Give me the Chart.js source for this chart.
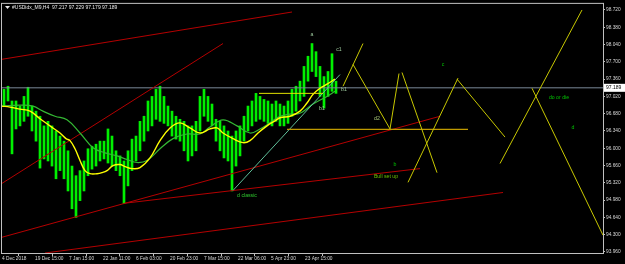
<!DOCTYPE html>
<html>
<head>
<meta charset="utf-8">
<style>
  html, body { margin: 0; padding: 0; background: #000; }
</style>
<script src="https://cdn.jsdelivr.net/npm/chart.js@4/dist/chart.umd.min.js"></script>
</head>
<body>
<canvas id="grafico" width="625" height="264"></canvas>
<script>
  // H4 bars, one entry every two bars (x in bar units)
  const barHigh = [97.16, 97.22, 96.93, 96.93, 96.83, 97.02, 97.20, 96.83, 96.73, 96.63,
    96.44, 96.53, 96.44, 96.34, 96.24, 96.14, 95.95, 95.65, 95.46, 95.56,
    95.75, 95.99, 96.04, 96.08, 96.14, 96.14, 96.38, 96.24, 95.95, 95.85,
    95.75, 95.95, 96.18, 96.24, 96.53, 96.63, 96.93, 97.02, 97.16, 97.22,
    97.02, 96.83, 96.73, 96.63, 96.57, 96.53, 96.44, 96.44, 96.53, 97.02,
    97.16, 97.02, 96.87, 96.57, 96.53, 96.44, 96.34, 96.24, 96.34, 96.44,
    96.63, 96.83, 96.93, 97.08, 97.02, 96.96, 96.93, 96.87, 96.93, 96.87,
    96.83, 96.93, 97.16, 97.22, 97.32, 97.61, 97.81, 98.06, 97.90, 97.61,
    97.41, 97.51, 97.86, 97.32];
  const barLow = [96.83, 96.93, 95.89, 96.38, 96.44, 96.53, 96.63, 96.34, 96.14, 95.61,
    95.79, 95.75, 95.65, 95.40, 95.56, 95.40, 95.16, 94.81, 94.64, 94.97,
    95.16, 95.46, 95.59, 95.65, 95.75, 95.79, 95.71, 95.65, 95.56, 95.46,
    94.91, 95.26, 95.56, 95.75, 95.95, 96.14, 96.34, 96.44, 96.57, 96.53,
    96.49, 96.44, 96.24, 96.18, 96.14, 95.95, 95.75, 95.85, 95.95, 96.34,
    96.63, 96.53, 96.44, 96.14, 95.95, 95.81, 95.75, 95.16, 95.65, 95.85,
    96.14, 96.34, 96.44, 96.53, 96.57, 96.53, 96.49, 96.44, 96.53, 96.44,
    96.44, 96.49, 96.63, 96.73, 96.93, 97.02, 97.32, 97.51, 97.41, 97.02,
    96.79, 97.02, 97.12, 97.08];

  const maFast = [[0, 96.83], [4, 96.81], [9, 96.77], [14, 96.73], [19, 96.58], [24, 96.44],
    [29, 96.30], [32, 96.19], [34, 96.15], [36.5, 95.99], [39, 95.76], [41.5, 95.56],
    [44, 95.50], [47.5, 95.50], [50, 95.52], [52.5, 95.56], [55.5, 95.66], [59, 95.68],
    [61.5, 95.64], [65, 95.60], [69, 95.62], [74, 95.81], [79, 96.15], [84, 96.40],
    [89, 96.50], [94, 96.40], [99, 96.30], [104, 96.38], [107.5, 96.40], [110.5, 96.30],
    [115.5, 96.19], [120.5, 96.11], [124, 96.15], [128, 96.30], [132.5, 96.44],
    [136.5, 96.54], [139, 96.60], [144, 96.63], [149, 96.73], [152.5, 96.89],
    [155.5, 97.06], [159, 97.18], [162.5, 97.26], [166.5, 97.36]];
  const maSlow = [[0, 96.83], [9, 96.85], [15.5, 96.83], [20.5, 96.73], [26.5, 96.63],
    [32.5, 96.56], [39, 96.30], [45.5, 96.01], [51.5, 95.91], [57.5, 95.85], [62.5, 95.78],
    [67.5, 95.72], [72.5, 95.76], [79, 95.99], [85.5, 96.19], [92.5, 96.28], [99, 96.28],
    [104, 96.42], [110.5, 96.56], [117.5, 96.44], [124, 96.30], [129, 96.38], [134, 96.50],
    [139, 96.63], [144, 96.67], [149, 96.69], [155.5, 96.87], [162.5, 97.02], [166.5, 97.12]];

  // drawn objects: [x1, price1, x2, price2]
  const redLines = [[0, 97.75, 145, 98.68], [0, 95.31, 110.5, 98.06], [0, 94.25, 219, 96.63],
    [61.5, 94.92, 209, 95.60], [21.5, 93.94, 250.5, 95.13]];
  const zigzag = [[170.5, 97.22, 180.5, 98.06], [175.5, 97.65, 194, 96.38], [194, 96.38, 198.5, 97.47],
    [200, 97.49, 217.5, 95.52], [203, 95.33, 228, 97.38], [227.5, 97.36, 251.5, 96.22],
    [249, 95.70, 290, 98.72], [265, 97.18, 300.5, 94.29]];
  const tealLine = [115.5, 95.17, 169, 97.45];
  const yellowLevel = [128.5, 97.08, 160.5, 97.08];
  const goldLevel = [142.5, 96.37, 233, 96.37];
  const lastPrice = 97.189;

  const notes = [
    ['a', 155, 98.23, '#9cc89c'], ['c1', 168.5, 97.94, '#9cc89c'], ['b1', 171, 97.16, '#9cc89c'],
    ['b1', 160, 96.79, '#9cc89c'], ['d2', 187.5, 96.59, '#a8c878'], ['c', 220.5, 97.65, '#00c000'],
    ['do or die', 278.5, 97.00, '#00c000'], ['d', 285.5, 96.40, '#00c000'], ['b', 196.5, 95.68, '#00c000'],
    ['Bull set up', 192, 95.44, '#6cc000'], ['d classic', 122.5, 95.07, '#2ec82e']
  ];

  const yTicks = [93.96, 94.30, 94.64, 94.98, 95.32, 95.66, 96.00, 96.34, 96.68, 97.02, 97.36, 97.70, 98.04, 98.38, 98.72];
  const xTickPos = [0, 16.5, 33.5, 50.5, 67, 84, 101, 118, 134.5, 151.5];
  const xLabels = ['4 Dec 2018', '19 Dec 15:00', '7 Jan 15:00', '22 Jan 11:00', '6 Feb 03:00',
    '20 Feb 23:00', '7 Mar 15:00', '22 Mar 06:00', '5 Apr 23:00', '23 Apr 15:00'];

  const seg = (s, color, width) => ({
    type: 'line',
    data: [{ x: s[0], y: s[1] }, { x: s[2], y: s[3] }],
    borderColor: color, borderWidth: width || 1, pointRadius: 0, tension: 0
  });

  const datasets = [];
  zigzag.forEach(s => datasets.push(seg(s, '#c8c800')));
  datasets.push(seg(yellowLevel, '#e0e000'));
  datasets.push(seg(goldLevel, '#c09a00', 1.2));
  datasets.push(seg(tealLine, '#5fbf9a'));
  datasets.push({ type: 'line', data: maFast.map(p => ({ x: p[0], y: p[1] })),
    borderColor: '#ffff00', borderWidth: 1.4, pointRadius: 0, tension: 0.4 });
  datasets.push({ type: 'line', data: maSlow.map(p => ({ x: p[0], y: p[1] })),
    borderColor: '#34b834', borderWidth: 1.2, pointRadius: 0, tension: 0.4 });
  redLines.forEach(s => datasets.push(seg(s, '#b40000')));
  datasets.push(seg([0, lastPrice, 300.5, lastPrice], '#7a8898'));
  datasets.push({ type: 'bar', data: barHigh.map((h, i) => ({ x: 1 + 2 * i, y: [barLow[i], h] })),
    backgroundColor: '#00f000', barThickness: 2, grouped: false });

  const font = 'Liberation Sans';

  const extras = {
    id: 'extras',
    afterDraw(chart) {
      const c = chart.ctx, xs = chart.scales.x, ys = chart.scales.y, a = chart.chartArea;
      c.save();
      c.font = '5.2px "' + font + '"';
      c.textBaseline = 'middle';
      c.textAlign = 'center';
      notes.forEach(n => {
        c.fillStyle = n[3];
        c.fillText(n[0], xs.getPixelForValue(n[1]), ys.getPixelForValue(n[2]));
      });
      // header
      c.fillStyle = '#e8e8e8';
      c.beginPath();
      c.moveTo(a.left + 3, 6); c.lineTo(a.left + 8, 6); c.lineTo(a.left + 5.5, 9); c.fill();
      c.textAlign = 'left';
      c.font = '5px "' + font + '"';
      c.fillText('#USDidx_M9,H4  97.217 97.229 97.179 97.189', a.left + 10, 7.5);
      // border
      c.strokeStyle = '#c0c0c0';
      c.lineWidth = 1;
      c.strokeRect(a.left - 0.5, a.top - 0.5, a.right - a.left + 1, a.bottom - a.top + 1);
      // last price box
      const py = ys.getPixelForValue(lastPrice);
      c.fillStyle = '#ffffff';
      c.fillRect(a.right + 1, py - 4, 21, 8);
      c.fillStyle = '#000';
      c.fillText(lastPrice.toFixed(3), a.right + 3, py);
      c.restore();
    }
  };

  new Chart(document.getElementById('grafico').getContext('2d'), {
    type: 'line',
    data: { datasets: datasets },
    options: {
      responsive: false,
      animation: false,
      layout: { padding: { left: 2, top: 2, right: 0, bottom: 0 } },
      plugins: { legend: { display: false }, tooltip: { enabled: false } },
      scales: {
        x: {
          type: 'linear', min: 0, max: 300.5, offset: false,
          afterBuildTicks: s => { s.ticks = xTickPos.map(v => ({ value: v })); },
          afterFit: s => { s.height = 11; },
          border: { display: false },
          grid: { drawOnChartArea: false, drawTicks: true, tickLength: 3, color: '#c0c0c0' },
          ticks: {
            autoSkip: false, maxRotation: 0, align: 'start', padding: 0,
            color: '#d8d8d8', font: { family: font, size: 4.8 },
            callback: (v, i) => xLabels[i]
          }
        },
        y: {
          type: 'linear', position: 'right', min: 93.94, max: 98.84,
          afterBuildTicks: s => { s.ticks = yTicks.map(v => ({ value: v })); },
          afterFit: s => { s.width = 22; },
          border: { display: false },
          grid: { drawOnChartArea: false, drawTicks: true, tickLength: 2, color: '#c0c0c0' },
          ticks: {
            padding: 1, color: '#d8d8d8', font: { family: font, size: 4.8 },
            callback: v => v.toFixed(3)
          }
        }
      }
    },
    plugins: [extras]
  });
</script>
</body>
</html>
